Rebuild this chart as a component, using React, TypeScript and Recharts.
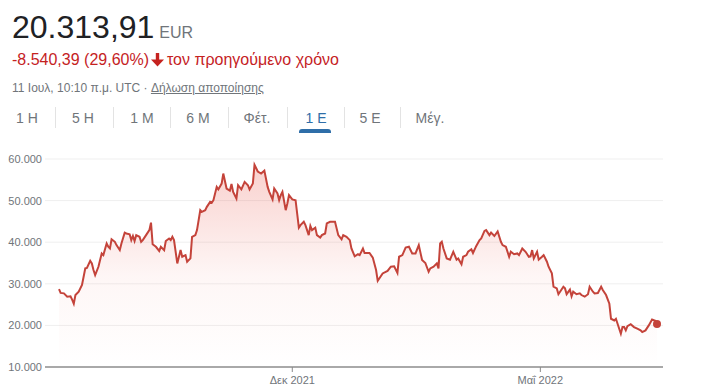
import React from "react";
import { AreaChart, Area, XAxis, YAxis, CartesianGrid, ReferenceDot } from "recharts";

// days since 12 Jul 2021
const days = [
  0, 1, 3, 5, 7, 8, 9, 10, 12, 14,
  16, 17, 19, 20, 21, 22, 24, 26, 27, 29,
  30, 31, 32, 34, 35, 37, 38, 40, 41, 43,
  44, 45, 46, 47, 49, 50, 51, 53, 55, 56,
  57, 59, 61, 62, 64, 65, 67, 68, 69, 70,
  72, 74, 75, 77, 78, 80, 81, 83, 84, 86,
  87, 89, 90, 92, 93, 94, 96, 97, 99, 100,
  102, 104, 105, 106, 108, 109, 111, 113, 115, 116,
  118, 119, 121, 123, 125, 127, 128, 130, 131, 133,
  134, 135, 136, 138, 139, 140, 142, 144, 146, 147,
  149, 150, 152, 153, 154, 156, 157, 159, 160, 162,
  163, 165, 168, 170, 172, 173, 175, 177, 178, 180,
  182, 183, 185, 186, 189, 191, 193, 194, 197, 200,
  202, 204, 206, 207, 209, 211, 213, 215, 217, 219,
  221, 223, 225, 226, 228, 230, 231, 232, 233, 234,
  236, 238, 240, 242, 243, 245, 246, 248, 249, 251,
  252, 254, 256, 257, 259, 260, 262, 263, 265, 267,
  269, 270, 272, 274, 275, 277, 279, 280, 282, 284,
  286, 287, 288, 289, 291, 292, 294, 295, 297, 298,
  300, 301, 303, 304, 305, 307, 308, 309, 311, 312,
  313, 315, 317, 318, 320, 322, 323, 325, 326, 328,
  330, 331, 333, 335, 336, 338, 339, 341, 342, 343,
  344, 345, 346, 348, 350, 352, 354, 355, 357, 359,
  361, 363, 364,
];

// EUR
const prices = [
  28700, 27800, 27700, 26900, 27000, 26200, 25200, 27300, 28100, 29700,
  33700, 33800, 35500, 34900, 33300, 32100, 34100, 37300, 36900, 39700,
  38900, 38500, 40700, 40100, 39300, 38100, 39700, 42300, 42100, 41900,
  40500, 41500, 40300, 41700, 41300, 40100, 40500, 41700, 42900, 44700,
  39500, 38900, 37900, 38900, 38100, 40300, 40900, 40500, 41300, 40500,
  34900, 38100, 36500, 36900, 35300, 36100, 41300, 41700, 42900, 47700,
  47300, 47700, 48500, 49700, 49500, 50100, 53300, 52700, 54100, 56500,
  52900, 52400, 54000, 52100, 50500, 53700, 52700, 54500, 53700, 52700,
  54100, 58600, 57000, 56500, 57200, 53300, 52100, 50300, 52900, 51700,
  50100, 51300, 52100, 47700, 49300, 51300, 50300, 50100, 43500, 44100,
  44900, 44100, 41700, 43900, 42900, 43500, 41700, 41100, 41700, 42100,
  44500, 44900, 44900, 41700, 40700, 41700, 41300, 40500, 38500, 36600,
  37100, 36900, 38500, 37400, 37400, 36300, 33300, 30700, 32500, 33100,
  34100, 34200, 32600, 36500, 36900, 38700, 38900, 37300, 37300, 39300,
  35700, 35000, 32900, 33700, 34100, 34900, 33700, 39700, 40100, 38500,
  36100, 35800, 37700, 35800, 36100, 34700, 36500, 36900, 37700, 38300,
  37400, 39100, 40500, 40900, 42700, 42900, 41700, 42300, 41500, 42600,
  40100, 39300, 38900, 36500, 37700, 37100, 37300, 36900, 38500, 37700,
  36500, 36600, 38100, 36100, 37700, 35800, 36500, 36900, 35300, 34100,
  32500, 29300, 28900, 27500, 28100, 29300, 28900, 27500, 28600, 27000,
  28100, 27500, 27700, 27300, 26900, 27500, 29300, 28100, 27700, 27800,
  29300, 28500, 27300, 25200, 21600, 21200, 21600, 19200, 18000, 19600,
  19600, 18800, 19800, 20300, 19600, 19200, 18800, 18400, 18800, 20000,
  21400, 21100, 20313.91,
];

const yTicks = [10000, 20000, 30000, 40000, 50000, 60000];
const xTicks = [142, 293];
const xTickLabels = ["Δεκ 2021", "Μαΐ 2022"];
const ranges = ["1 Η", "5 Η", "1 M", "6 M", "Φέτ.", "1 Ε", "5 Ε", "Μέγ."];
const rangeCenters = [27, 83, 142, 198, 257, 316, 370, 430];
const separators = [55, 113, 170, 228, 287, 344, 400];

const data = days.map((d, i) => ({ day: d, price: prices[i] }));
const last = data[data.length - 1];

const RED = "#c5221f";
const LINE = "#c4433a";
const GRAY = "#70757a";

const fmt = (v: number) => String(v).replace(/\B(?=(\d{3})+(?!\d))/g, ".");

export default function App() {
  return (
    <div
      style={{
        position: "fixed",
        left: 0,
        top: 0,
        width: 702,
        height: 391,
        background: "#fff",
        fontFamily: "Arial, 'Liberation Sans', sans-serif",
        overflow: "hidden",
      }}
    >
      <div style={{ position: "absolute", left: 12, top: 11, display: "flex", alignItems: "baseline", lineHeight: "32px" }}>
        <span style={{ fontSize: 32, color: "#202124" }}>20.313,91</span>
        <span style={{ fontSize: 16, color: GRAY, marginLeft: 5 }}>EUR</span>
      </div>

      <div style={{ position: "absolute", left: 12, top: 52, fontSize: 16, lineHeight: "16px", color: RED, display: "flex", alignItems: "center", whiteSpace: "nowrap" }}>
        <span>-8.540,39 (29,60%)</span>
        <svg width="13" height="14" viewBox="0 0 13 14" style={{ margin: "0 3px 0 2px" }}>
          <rect x="4.8" y="0" width="3.4" height="8" fill={RED} />
          <polygon points="0,6.5 13,6.5 6.5,13.5" fill={RED} />
        </svg>
        <span>τον προηγούμενο χρόνο</span>
      </div>

      <div style={{ position: "absolute", left: 12, top: 82, fontSize: 12, lineHeight: "12px", color: GRAY, whiteSpace: "nowrap" }}>
        11 Ιουλ, 10:10 π.μ. UTC · <span style={{ textDecoration: "underline" }}>Δήλωση αποποίησης</span>
      </div>

      {ranges.map((r, i) => (
        <div
          key={r}
          style={{
            position: "absolute",
            left: rangeCenters[i] - 30,
            width: 60,
            top: 111,
            textAlign: "center",
            fontSize: 14,
            lineHeight: "14px",
            color: i === 5 ? "#2f6ea8" : GRAY,
          }}
        >
          {r}
        </div>
      ))}
      {separators.map((s) => (
        <div key={s} style={{ position: "absolute", left: s, top: 107, width: 1, height: 21, background: "#e3e3e3" }} />
      ))}
      <div style={{ position: "absolute", left: 299, top: 129, width: 32, height: 4, borderRadius: "3px 3px 0 0", background: "#2f6ea8" }} />

      <div style={{ position: "absolute", left: 0, top: 140 }}>
        <AreaChart width={702} height={251} data={data} margin={{ top: 19, right: 39, bottom: 0, left: 0 }}>
          <defs>
            <linearGradient id="fillRed" x1="0" y1="0" x2="0" y2="1">
              <stop offset="0%" stopColor="#e8483b" stopOpacity={0.42} />
              <stop offset="55%" stopColor="#e8483b" stopOpacity={0.08} />
              <stop offset="100%" stopColor="#e8483b" stopOpacity={0} />
            </linearGradient>
          </defs>
          <CartesianGrid horizontal vertical={false} stroke="#efefef" />
          <XAxis
            type="number"
            dataKey="day"
            domain={[0, 364]}
            padding={{ left: 14, right: 6 }}
            ticks={xTicks}
            tickFormatter={(v: number) => xTickLabels[xTicks.indexOf(v)]}
            height={24}
            tickSize={5}
            tickMargin={4}
            axisLine={{ stroke: "#a9a9a9", strokeWidth: 2 }}
            tickLine={{ stroke: "#8a8a8a" }}
            tick={{ fill: GRAY, fontSize: 11 }}
            interval={0}
          />
          <YAxis
            domain={[10000, 60000]}
            ticks={yTicks}
            tickFormatter={fmt}
            width={45}
            axisLine={false}
            tickLine={false}
            tickSize={0}
            tickMargin={3}
            tick={{ fill: GRAY, fontSize: 11 }}
          />
          <Area
            type="linear"
            dataKey="price"
            stroke={LINE}
            strokeWidth={2}
            fill="url(#fillRed)"
            isAnimationActive={false}
            dot={false}
            activeDot={false}
          />
          <ReferenceDot x={last.day} y={last.price} r={4} fill={LINE} stroke="none" />
        </AreaChart>
      </div>
    </div>
  );
}
